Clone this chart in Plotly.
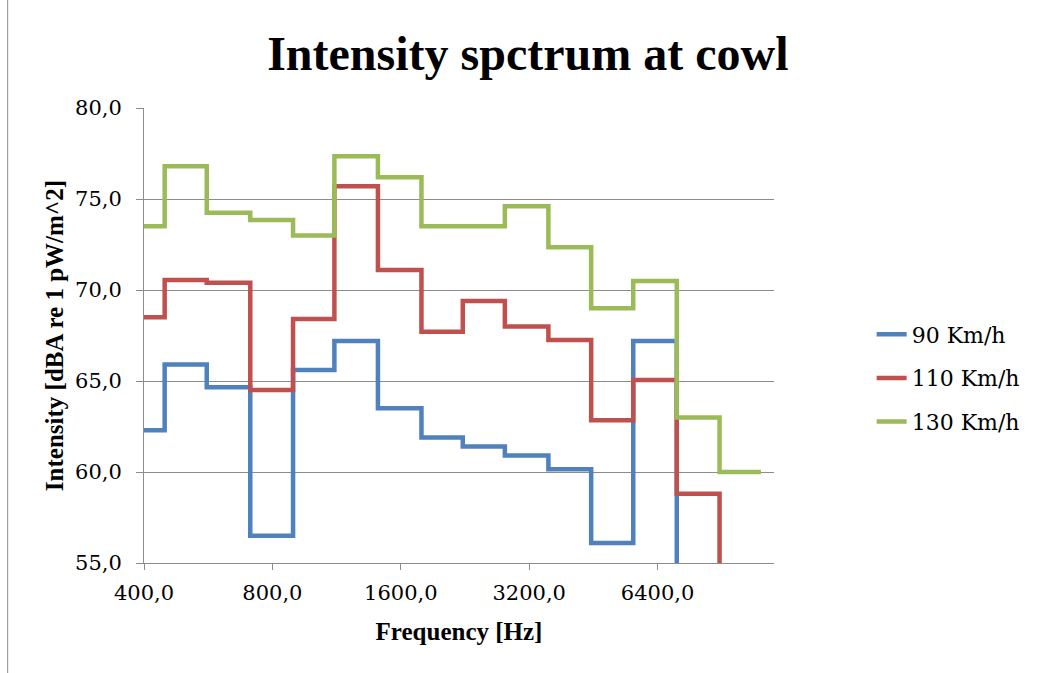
import numpy as np
import plotly.graph_objects as go

# Third-octave band centre frequencies [Hz]
band_centres = [400, 500, 630, 800, 1000, 1250, 1600, 2000, 2500, 3150, 4000, 5000, 6300, 8000, 10000]

# Band intensity levels [dBA re 1 pW/m^2] for each vehicle speed
level_90 = [62.3, 65.9, 64.65, 56.5, 65.6, 67.2, 63.5, 61.9, 61.4, 60.9, 60.15, 56.1, 67.2, 52.0, 50.0]
level_110 = [68.5, 70.55, 70.4, 64.5, 68.4, 75.7, 71.1, 67.7, 69.4, 68.0, 67.25, 62.85, 65.05, 58.8, 52.0]
level_130 = [73.5, 76.8, 74.25, 73.85, 73.0, 77.35, 76.2, 73.5, 73.5, 74.6, 72.35, 69.0, 70.5, 63.0, 60.0]

series_names = ["90 Km/h", "110 Km/h", "130 Km/h"]
series_colors = ["#4F81BD", "#C0504D", "#9BBB59"]

y_ticks = [55, 60, 65, 70, 75, 80]
x_ticks = [400, 800, 1600, 3200, 6400]


def band_edges(centres):
    """Lower edge of every band plus the upper edge of the last band
    (geometric midpoints between neighbouring centres)."""
    c = np.asarray(centres, dtype=float)
    mids = np.sqrt(c[:-1] * c[1:])
    first = c[0] * np.sqrt(c[0] / c[1])
    last = c[-1] * np.sqrt(c[-1] / c[-2])
    return np.concatenate([[first], mids, [last]])


edges = band_edges(band_centres)

fig = go.Figure()
for name, color, levels in zip(series_names, series_colors, [level_90, level_110, level_130]):
    fig.add_trace(go.Scatter(
        x=edges,
        y=list(levels) + [levels[-1]],
        mode="lines",
        line=dict(color=color, width=4.5, shape="hv"),
        name=name,
        legendgroup=name,
    ))

grey = "#8C8C8C"
serif = "DejaVu Serif"
bold_serif = "Liberation Serif"

fig.update_layout(
    width=1037,
    height=673,
    margin=dict(l=144, r=260, t=108, b=110),
    paper_bgcolor="white",
    plot_bgcolor="white",
    separators=",.",
    title=dict(
        text="<b>Intensity spctrum at cowl</b>",
        font=dict(family=bold_serif, size=48, color="black"),
        x=0.509, xref="container", xanchor="center",
        y=0.921, yref="container", yanchor="middle",
    ),
    legend=dict(
        x=1.155, xanchor="left",
        y=0.4066, yanchor="middle",
        font=dict(family=serif, size=22, color="black"),
        tracegroupgap=12,
        bgcolor="rgba(0,0,0,0)",
    ),
    showlegend=True,
    shapes=[
        # chart-area border
        dict(type="line", xref="paper", yref="paper",
             x0=-0.2164, x1=-0.2164, y0=-0.5, y1=1.5,
             line=dict(color=grey, width=1)),
    ],
)

fig.update_xaxes(
    type="log",
    range=[np.log10(400), np.log10(12000)],
    tickvals=x_ticks,
    tickformat=".1f",
    tickfont=dict(family=serif, size=21, color="black"),
    ticks="outside", ticklen=6, tickcolor=grey, tickwidth=1,
    ticklabelstandoff=5,
    showline=True, linecolor=grey, linewidth=1,
    showgrid=False, zeroline=False,
    title=dict(text="<b>Frequency [Hz]</b>",
               font=dict(family=bold_serif, size=25, color="black"),
               standoff=18),
)

fig.update_yaxes(
    range=[55, 80],
    tickvals=y_ticks,
    tickformat=".1f",
    tickfont=dict(family=serif, size=21, color="black"),
    ticks="outside", ticklen=7, tickcolor=grey, tickwidth=1,
    ticklabelstandoff=10,
    showline=True, linecolor=grey, linewidth=1,
    showgrid=True, gridcolor=grey, gridwidth=1,
    zeroline=False,
    title=dict(text="<b>Intensity [dBA re 1 pW/m^2]</b>",
               font=dict(family=bold_serif, size=25, color="black"),
               standoff=4),
)

fig.write_html("out.html")
